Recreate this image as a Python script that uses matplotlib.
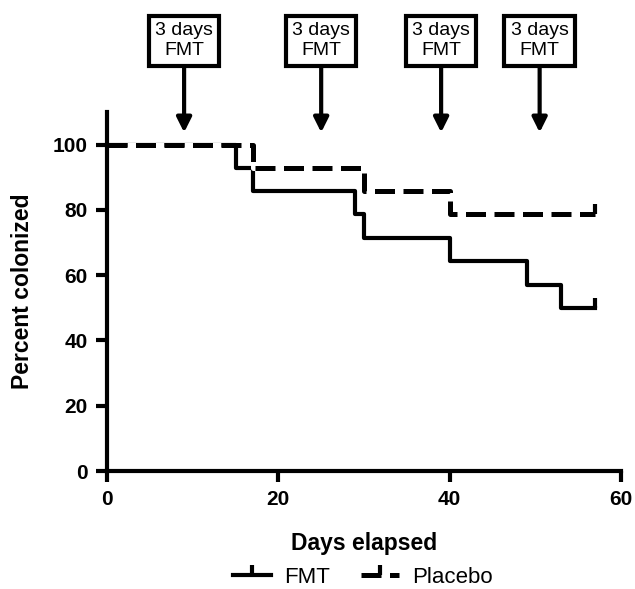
import matplotlib

matplotlib.use("Agg")
import matplotlib.pyplot as plt

# Kaplan-Meier style steps (percent still colonized)
fmt_days = [0, 15, 17, 29, 30, 40, 49, 53, 57]
fmt_pct = [100, 92.9, 85.7, 78.6, 71.4, 64.3, 57.1, 50.0, 50.0]
placebo_days = [0, 17, 30, 40, 57]
placebo_pct = [100, 92.9, 85.7, 78.6, 78.6]

# FMT treatment periods marked by arrows
fmt_arrow_days = [9, 25, 39, 50.5]
arrow_label = "3 days\nFMT"

x_ticks = [0, 20, 40, 60]
y_ticks = [0, 20, 40, 60, 80, 100]

plt.rcParams["font.family"] = ["Liberation Sans", "DejaVu Sans"]

fig = plt.figure(figsize=(6.35, 5.89), dpi=100)
ax = fig.add_axes([0.1685, 0.2003, 0.8095, 0.6097])

lw = 3.0
ax.step(fmt_days, fmt_pct, where="post", color="black", lw=lw,
        marker=2, markevery=[-1], markersize=7, markeredgewidth=lw,
        label="FMT", zorder=3)
ax.step(placebo_days, placebo_pct, where="post", color="black", lw=lw * 1.2,
        linestyle=(0, (4.0, 1.7)), gapcolor="white",
        marker=2, markevery=[-1], markersize=7, markeredgewidth=lw,
        label="Placebo", zorder=4)

for d in fmt_arrow_days:
    ax.annotate(
        arrow_label, xy=(d, 103.7), xytext=(d, 131.8),
        ha="center", va="center", fontsize=14, linespacing=1.25,
        annotation_clip=False,
        bbox=dict(boxstyle="square,pad=0.32", fc="white", ec="black", lw=lw),
        arrowprops=dict(arrowstyle="-|>", color="black", lw=lw,
                        mutation_scale=22, shrinkA=0, shrinkB=0),
    )

ax.set_xlim(0, 60)
ax.set_ylim(0, 110)
ax.set_xticks(x_ticks)
ax.set_yticks(y_ticks)
ax.spines["left"].set_bounds(0, 110)
for side in ("top", "right"):
    ax.spines[side].set_visible(False)
for side in ("left", "bottom"):
    ax.spines[side].set_linewidth(lw)
ax.tick_params(direction="out", length=8, width=lw, labelsize=15, pad=6)
for lab in ax.get_xticklabels() + ax.get_yticklabels():
    lab.set_fontweight("bold")

ax.set_xlabel("Days elapsed", fontsize=16.5, fontweight="bold", labelpad=16)
ax.set_ylabel("Percent colonized", fontsize=16.5, fontweight="bold", labelpad=13)

fig.legend(loc="center", bbox_to_anchor=(0.572, 0.02), ncol=2, frameon=False,
           fontsize=16, handlelength=1.7, columnspacing=1.4, handletextpad=0.6)

fig.savefig("out.png", dpi=100)
